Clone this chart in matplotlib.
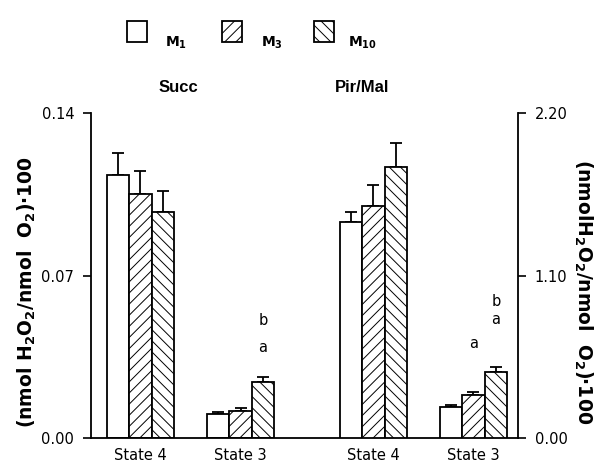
import matplotlib
matplotlib.use("Agg")
from matplotlib import pyplot as plt
from matplotlib.patches import Rectangle
import numpy as np

plt.rcParams["font.family"] = ["DejaVu Sans"]
plt.rcParams["mathtext.fontset"] = "dejavusans"
plt.rcParams["mathtext.default"] = "regular"
plt.rcParams["hatch.linewidth"] = 0.7

W, H = 597, 468

# data
states = ["State 4", "State 3"]
series = ["M$_1$", "M$_3$", "M$_{10}$"]
hatches = ["", "///", "\\\\\\"]

# Succ (left axis)
succ_mean = [[0.1131, 0.0103],   # M1
             [0.1053, 0.0117],   # M3
             [0.0974, 0.0242]]   # M10
succ_err = [[0.0098, 0.0009],
            [0.0098, 0.0012],
            [0.0091, 0.0021]]

# Pir/Mal (right axis)
pir_mean = [[1.464, 0.210],
            [1.568, 0.289],
            [1.833, 0.445]]
pir_err = [[0.068, 0.016],
           [0.145, 0.021],
           [0.163, 0.034]]

# significance letters: (panel, state index, series index, y, letter)
sig_labels = [("succ", 1, 2, 0.0392, "a"),
              ("succ", 1, 2, 0.0507, "b"),
              ("pir", 1, 1, 0.638, "a"),
              ("pir", 1, 2, 0.801, "a"),
              ("pir", 1, 2, 0.923, "b")]

group_pos = {"succ": np.array([0.0, 4.45]), "pir": np.array([10.35, 14.8])}
width = 1.0
offsets = [-1.0, 0.0, 1.0]

fig = plt.figure(figsize=(W / 100, H / 100), dpi=100)
ax = fig.add_axes([0.1524, 0.0641, 0.7153, 0.6944])
ax2 = ax.twinx()

for axis, key, means, errs in [(ax, "succ", succ_mean, succ_err), (ax2, "pir", pir_mean, pir_err)]:
    for i in range(3):
        x = group_pos[key] + offsets[i] * width
        axis.bar(x, means[i], width=width, facecolor="white", edgecolor="black",
                 linewidth=1.3, hatch=hatches[i], zorder=2)
        axis.errorbar(x, means[i], yerr=[np.zeros(2), errs[i]], fmt="none",
                      ecolor="black", elinewidth=1.3, capsize=4, capthick=1.3, zorder=1)

for key, s, i, y, letter in sig_labels:
    axis = ax if key == "succ" else ax2
    axis.text(group_pos[key][s] + offsets[i] * width, y, letter, ha="center", va="center", fontsize=10.5)

ax.set_xlim(-2.2, 16.78)
ax.set_ylim(0, 0.14)
ax2.set_ylim(0, 2.2)
ax.set_yticks([0, 0.07, 0.14])
ax.set_yticklabels(["0.00", "0.07", "0.14"])
ax2.set_yticks([0, 1.1, 2.2])
ax2.set_yticklabels(["0.00", "1.10", "2.20"])

xt = np.concatenate([group_pos["succ"], group_pos["pir"]])
ax.set_xticks(xt)
ax.set_xticklabels(states + states)
ax.tick_params(axis="x", length=0, pad=7, labelsize=10.5)
ax.tick_params(axis="y", direction="out", length=6, width=1.2, labelsize=10.5, pad=6)
ax2.tick_params(axis="y", direction="out", length=6, width=1.2, labelsize=10.5, pad=6)

for a in (ax, ax2):
    a.spines["top"].set_visible(False)
    for sp in a.spines.values():
        sp.set_linewidth(1.3)
ax.spines["right"].set_visible(False)
ax2.spines["left"].set_visible(False)
ax2.spines["bottom"].set_visible(False)

fig.text(178 / W, 1 - 88 / H, "Succ", family="Liberation Sans", ha="center", va="center",
         fontsize=12, fontweight="bold")
fig.text(362 / W, 1 - 88 / H, "Pir/Mal", family="Liberation Sans", ha="center", va="center",
         fontsize=12, fontweight="bold")

fig.text(27 / W, 1 - 292 / H, "(nmol H$_2$O$_2$/nmol  O$_2$)·100", rotation=90,
         ha="center", va="center", fontsize=13.5, fontweight="bold")
fig.text(583 / W, 1 - 292 / H, "(nmolH$_2$O$_2$/nmol  O$_2$)·100", rotation=270,
         ha="center", va="center", fontsize=13.5, fontweight="bold")

# legend drawn as boxes + labels in figure pixels
box_x = [127, 222, 314]
label_x = [165, 261, 348]
for bx, lx, h, lab in zip(box_x, label_x, hatches, series):
    fig.add_artist(Rectangle((bx / W, 1 - 42 / H), 20 / W, 21 / H, transform=fig.transFigure,
                             facecolor="white", edgecolor="black", linewidth=1.3, hatch=h))
    fig.text(lx / W, 1 - 47 / H, lab, ha="left", va="baseline", fontsize=10, fontweight="bold")

fig.savefig("out.png", dpi=100)
